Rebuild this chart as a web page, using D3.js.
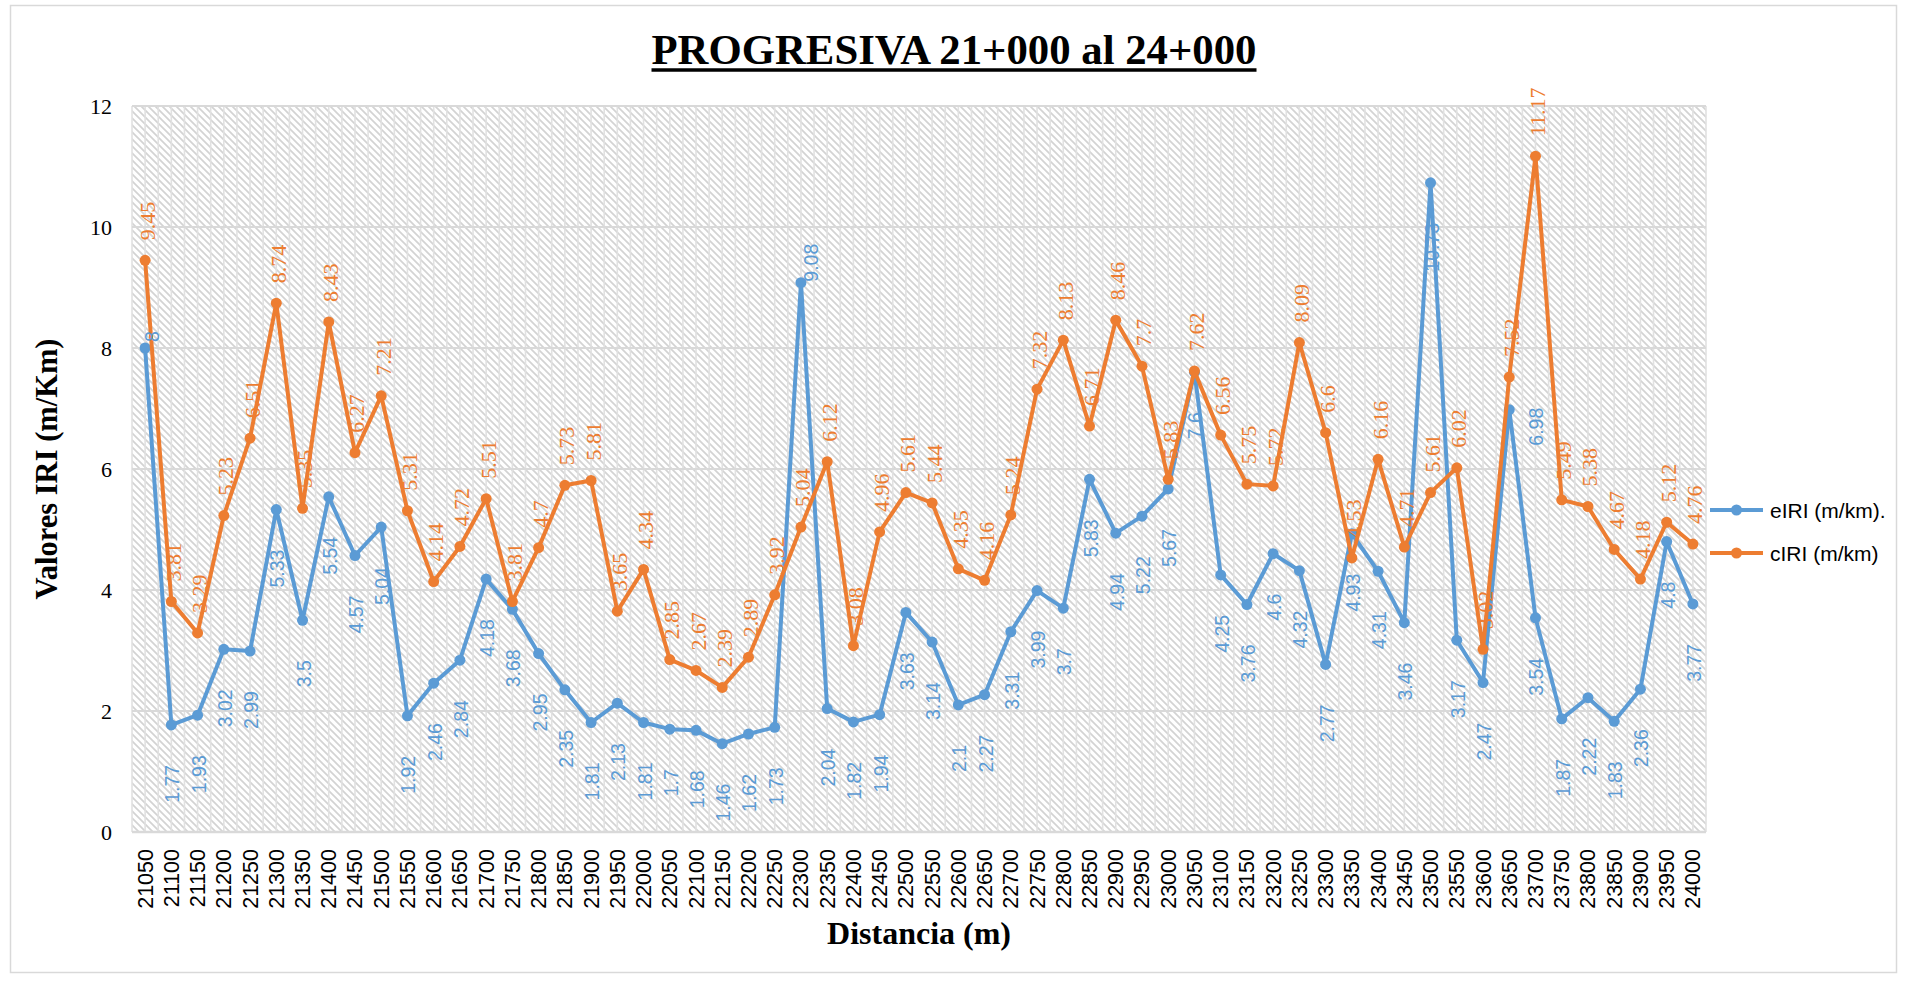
<!DOCTYPE html>
<html>
<head>
<meta charset="utf-8">
<script src="https://cdn.jsdelivr.net/npm/d3@7"></script>
<style>
  html, body { margin: 0; padding: 0; background: #ffffff; }
  svg { display: block; }
</style>
</head>
<body>
<svg id="chart" width="1906" height="981"></svg>
<script>
// Distance stations along the road (m)
const distancias = [
  "21050","21100","21150","21200","21250","21300","21350","21400","21450","21500",
  "21550","21600","21650","21700","21750","21800","21850","21900","21950","22000",
  "22050","22100","22150","22200","22250","22300","22350","22400","22450","22500",
  "22550","22600","22650","22700","22750","22800","22850","22900","22950","23000",
  "23050","23100","23150","23200","23250","23300","23350","23400","23450","23500",
  "23550","23600","23650","23700","23750","23800","23850","23900","23950","24000"
];

// eIRI (m/km)
const eIRI = [
  8, 1.77, 1.93, 3.02, 2.99, 5.33, 3.5, 5.54, 4.57, 5.04,
  1.92, 2.46, 2.84, 4.18, 3.68, 2.95, 2.35, 1.81, 2.13, 1.81,
  1.7, 1.68, 1.46, 1.62, 1.73, 9.08, 2.04, 1.82, 1.94, 3.63,
  3.14, 2.1, 2.27, 3.31, 3.99, 3.7, 5.83, 4.94, 5.22, 5.67,
  7.6, 4.25, 3.76, 4.6, 4.32, 2.77, 4.93, 4.31, 3.46, 10.73,
  3.17, 2.47, 6.98, 3.54, 1.87, 2.22, 1.83, 2.36, 4.8, 3.77
];

// cIRI (m/km)
const cIRI = [
  9.45, 3.81, 3.29, 5.23, 6.51, 8.74, 5.35, 8.43, 6.27, 7.21,
  5.31, 4.14, 4.72, 5.51, 3.81, 4.7, 5.73, 5.81, 3.65, 4.34,
  2.85, 2.67, 2.39, 2.89, 3.92, 5.04, 6.12, 3.08, 4.96, 5.61,
  5.44, 4.35, 4.16, 5.24, 7.32, 8.13, 6.71, 8.46, 7.7, 5.83,
  7.62, 6.56, 5.75, 5.72, 8.09, 6.6, 4.53, 6.16, 4.71, 5.61,
  6.02, 3.02, 7.52, 11.17, 5.49, 5.38, 4.67, 4.18, 5.12, 4.76
];

const yTicks = [0, 2, 4, 6, 8, 10, 12];

const titulo = "PROGRESIVA 21+000 al 24+000";
const tituloY = "Valores IRI (m/Km)";
const tituloX = "Distancia (m)";
const serieNombres = ["eIRI (m/km).", "cIRI (m/km)"];

const BLUE = "#5B9BD5";
const ORANGE = "#ED7D31";

const plot = { left: 132, right: 1706, top: 106, bottom: 832 };

const svg = d3.select("#chart");

// outer chart frame
svg.append("rect")
  .attr("x", 10.5).attr("y", 5.5)
  .attr("width", 1886).attr("height", 967)
  .attr("fill", "#ffffff")
  .attr("stroke", "#d9d9d9").attr("stroke-width", 1.5);

const x = d3.scalePoint().domain(distancias).range([plot.left, plot.right]).padding(0.5);
const y = d3.scaleLinear().domain([0, 12]).range([plot.bottom, plot.top]);
const step = x.step();

// hatched plot area
const defs = svg.append("defs");
const pat = defs.append("pattern")
  .attr("id", "hatch")
  .attr("patternUnits", "userSpaceOnUse")
  .attr("width", 7).attr("height", 7);
pat.append("rect").attr("width", 7).attr("height", 7).attr("fill", "#ffffff");
pat.append("path")
  .attr("d", "M-1,-1 L8,8 M-8,-1 L1,8 M6,-1 L15,8")
  .attr("stroke", "#d3d3d3").attr("stroke-width", 1.7);

svg.append("rect")
  .attr("x", plot.left).attr("y", plot.top)
  .attr("width", plot.right - plot.left).attr("height", plot.bottom - plot.top)
  .attr("fill", "url(#hatch)");

// light vertical lines at every half category
const vLines = [];
distancias.forEach(d => { vLines.push(x(d) - step / 2); vLines.push(x(d)); });
vLines.push(plot.right);
svg.append("g").selectAll("line").data(vLines).join("line")
  .attr("x1", d => d).attr("x2", d => d)
  .attr("y1", plot.top).attr("y2", plot.bottom)
  .attr("stroke", "#e1e1e1").attr("stroke-width", 1.6);

// horizontal gridlines
svg.append("g").selectAll("line").data(yTicks).join("line")
  .attr("x1", plot.left).attr("x2", plot.right)
  .attr("y1", d => y(d)).attr("y2", d => y(d))
  .attr("stroke", "#d9d9d9").attr("stroke-width", d => d === 0 ? 2.5 : 2);

// y axis labels
const yAxis = d3.axisLeft(y).tickValues(yTicks).tickSize(0).tickPadding(20);
const gy = svg.append("g").attr("transform", `translate(${plot.left},0)`).call(yAxis);
gy.select(".domain").remove();
gy.selectAll("text")
  .attr("font-family", "'Liberation Serif', 'Times New Roman', serif")
  .attr("font-size", 22).attr("fill", "#000");

// x axis labels (rotated)
const xAxis = d3.axisBottom(x).tickSize(0).tickPadding(0);
const gx = svg.append("g").attr("transform", `translate(0,${plot.bottom})`).call(xAxis);
gx.select(".domain").remove();
gx.selectAll("text")
  .attr("font-family", "'Liberation Sans', Arial, sans-serif")
  .attr("font-size", 21.5).attr("fill", "#000")
  .attr("text-anchor", "end")
  .attr("dominant-baseline", "central")
  .attr("dy", null).attr("y", 0)
  .attr("transform", "translate(0,17) rotate(-90)");

// series lines and markers
const series = [
  { name: serieNombres[0], values: eIRI, color: BLUE },
  { name: serieNombres[1], values: cIRI, color: ORANGE }
];
const line = d3.line().x(d => x(d.cat)).y(d => y(d.v));

series.forEach(s => {
  const pts = distancias.map((c, i) => ({ cat: c, v: s.values[i] }));
  svg.append("path").datum(pts)
    .attr("d", line).attr("fill", "none")
    .attr("stroke", s.color).attr("stroke-width", 4)
    .attr("stroke-linejoin", "round").attr("stroke-linecap", "round");
  svg.append("g").selectAll("circle").data(pts).join("circle")
    .attr("cx", d => x(d.cat)).attr("cy", d => y(d.v)).attr("r", 5.5)
    .attr("fill", s.color);
});

// data labels: eIRI below the point, cIRI above, both rotated
const fmt = v => String(v);
const blueNudge = { "21050": { dx: 7, dy: -6, anchor: "start" },
                    "22300": { dx: 10, dy: -1, anchor: "start" },
                    "23650": { dx: 27, dy: -2, anchor: "end" } };

svg.append("g").selectAll("text").data(distancias.map((c, i) => ({ cat: c, v: eIRI[i] }))).join("text")
  .attr("font-family", "'Liberation Sans', Arial, sans-serif")
  .attr("font-size", 19.5).attr("fill", BLUE)
  .attr("dominant-baseline", "central")
  .attr("text-anchor", d => blueNudge[d.cat] ? blueNudge[d.cat].anchor : "end")
  .attr("transform", d => {
    const n = blueNudge[d.cat];
    const px = x(d.cat) + (n ? n.dx : 1);
    const py = y(d.v) + (n ? n.dy : 40);
    return `translate(${px},${py}) rotate(-90)`;
  })
  .text(d => fmt(d.v));

svg.append("g").selectAll("text").data(distancias.map((c, i) => ({ cat: c, v: cIRI[i] }))).join("text")
  .attr("font-family", "'Liberation Serif', 'Times New Roman', serif")
  .attr("font-size", 22).attr("fill", ORANGE)
  .attr("dominant-baseline", "central")
  .attr("text-anchor", "start")
  .attr("transform", d => `translate(${x(d.cat) + 2},${y(d.v) - 20}) rotate(-90)`)
  .text(d => fmt(d.v));

// title
svg.append("text")
  .attr("x", 954).attr("y", 64)
  .attr("text-anchor", "middle")
  .attr("font-family", "'Liberation Serif', 'Times New Roman', serif")
  .attr("font-weight", "bold").attr("font-size", 43)
  .attr("textLength", 605).attr("lengthAdjust", "spacingAndGlyphs")
  .attr("fill", "#000")
  .text(titulo);
svg.append("line")
  .attr("x1", 954 - 302.5).attr("x2", 954 + 302.5)
  .attr("y1", 70).attr("y2", 70)
  .attr("stroke", "#000").attr("stroke-width", 3.5);

// axis titles
svg.append("text")
  .attr("transform", `translate(47,${(plot.top + plot.bottom) / 2}) rotate(-90)`)
  .attr("text-anchor", "middle").attr("dominant-baseline", "central")
  .attr("font-family", "'Liberation Serif', 'Times New Roman', serif")
  .attr("font-weight", "bold").attr("font-size", 30.5).attr("fill", "#000")
  .text(tituloY);

svg.append("text")
  .attr("x", (plot.left + plot.right) / 2).attr("y", 944)
  .attr("text-anchor", "middle")
  .attr("font-family", "'Liberation Serif', 'Times New Roman', serif")
  .attr("font-weight", "bold").attr("font-size", 32).attr("fill", "#000")
  .text(tituloX);

// legend
const legendY = [510, 553];
const lg = svg.append("g").selectAll("g").data(series).join("g")
  .attr("transform", (d, i) => `translate(1710,${legendY[i]})`);
lg.append("line").attr("x1", 0).attr("x2", 53).attr("y1", 0).attr("y2", 0)
  .attr("stroke", d => d.color).attr("stroke-width", 4);
lg.append("circle").attr("cx", 26.5).attr("cy", 0).attr("r", 5.5).attr("fill", d => d.color);
lg.append("text").attr("x", 60).attr("y", 0)
  .attr("dominant-baseline", "central")
  .attr("font-family", "'Liberation Sans', Arial, sans-serif")
  .attr("font-size", 21).attr("fill", "#000")
  .text(d => d.name);
</script>
</body>
</html>
